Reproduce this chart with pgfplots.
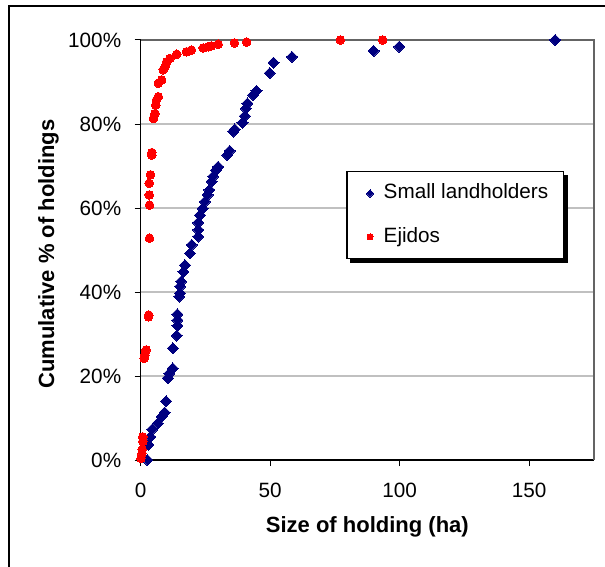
\documentclass[border=0pt]{standalone}
\usepackage{fontspec}
\setmainfont{Liberation Sans}
\usepackage{pgfplots}
\pgfplotsset{compat=1.18}
\definecolor{navy}{RGB}{0,0,128}
\definecolor{gridgray}{RGB}{192,192,192}
\definecolor{framegray}{RGB}{100,100,100}
\pgfplotsset{
  legimgA/.style={legend image code/.code={\pgfpathmoveto{\pgfpoint{-8pt}{0pt}}\pgfpathlineto{\pgfpoint{3.7pt}{0pt}}\pgfusepath{}\draw[##1, mark size=2.6pt] plot coordinates {(0pt,0pt)};}},
  legimgB/.style={legend image code/.code={\pgfpathmoveto{\pgfpoint{-8pt}{0pt}}\pgfpathlineto{\pgfpoint{3.7pt}{0pt}}\pgfusepath{}\draw[##1, mark size=3pt] plot coordinates {(0pt,0pt)};}},
}

\begin{document}
\begin{tikzpicture}
\useasboundingbox (0,0) rectangle (605pt,566pt);
\fill[white] (0,0) rectangle (605pt,566pt);
\draw[line width=2pt] (9pt,-5pt) -- (9pt,560.3pt) -- (620pt,560.3pt);
\begin{axis}[
  at={(140.7pt,106pt)}, anchor=south west,
  scale only axis, width=453.3pt, height=420pt,
  xmin=0, xmax=175, ymin=0, ymax=100,
  clip=false,
  xtick={0,50,100,150}, ytick={0,20,40,60,80,100},
  axis x line*=bottom, axis y line*=left,
  axis line style={line width=1.3pt, black, -},
  tick align=outside, major tick length=6pt,
  tick style={line width=1pt, black},
  ymajorgrids, grid style={line width=2pt, gridgray},
  /pgf/number format/assume math mode=true,
  tick label style={font=\fontsize{20.7}{24}\selectfont},
  yticklabel={\pgfmathprintnumber{\tick}\%},
  yticklabel style={xshift=-10pt},
  xticklabel style={yshift=-14pt},
  xlabel={\textbf{Size of holding (ha)}},
  ylabel={\textbf{Cumulative \% of holdings}},
  label style={font=\fontsize{22}{26}\selectfont},
  xlabel style={at={(axis description cs:0.5,0)}, anchor=base, yshift=-72pt},
  ylabel style={at={(axis description cs:-0.191,0.49)}, anchor=base},
  legend style={
    name=leg,
    at={(axis description cs:0.4537,0.688)}, anchor=north west,
    draw=black, line width=1.3pt, fill=white,
    font=\fontsize{20.7}{24}\selectfont,
    inner xsep=15pt, inner ysep=12pt,
    row sep=24pt, column sep=10pt,
    nodes={inner sep=0pt, text height=15pt, text depth=4.5pt},
  },
  legend cell align=left,
]
\draw[framegray, line width=2pt] (rel axis cs:0,1) -- (rel axis cs:1,1) -- (rel axis cs:1,0);

\addplot[only marks, mark=square*, mark size=3.9pt,
  mark options={rotate=45, draw=navy, fill=navy, line width=0pt}, legimgA]
table {
x y
2.6 0
3.0 3.6
3.7 5.5
4.5 7.3
6.6 8.7
8.1 10.3
9.2 11.3
9.8 14.0
10.5 19.5
11.1 20.6
12.4 21.8
12.4 26.6
13.9 29.6
14.2 32.0
14.2 33.3
14.2 34.7
14.9 38.9
15.2 39.7
15.2 41.3
15.6 42.5
16.5 44.8
17.1 46.4
19.0 49.2
19.7 51.2
22.2 53.2
22.2 54.8
22.2 56.5
22.9 58.3
23.9 59.9
24.8 61.5
25.8 63.1
26.5 64.3
27.4 66.3
28.0 67.5
29.0 69.0
29.9 69.8
33.4 72.6
34.4 73.6
35.7 78.2
36.3 78.7
39.3 80.3
40.2 81.9
40.6 83.7
41.2 84.9
43.4 86.9
44.7 87.9
49.8 92.1
51.3 94.6
58.4 96.0
89.9 97.4
99.8 98.4
160.0 100
};
\addlegendentry{Small landholders}

\addplot[only marks, mark=*, mark size=4.3pt,
  mark options={draw=red, fill=red, line width=0pt}, legimgB]
table {
x y
0.1 0.4
0.5 1.6
0.6 2.5
0.8 4.4
0.8 5.5
1.3 24.2
1.6 25.0
2.1 26.2
3.0 34.1
3.1 34.5
3.4 52.8
3.4 60.7
3.3 63.1
3.3 65.9
3.8 67.9
4.3 72.6
4.3 73.2
4.9 81.3
5.5 82.5
5.8 84.5
6.1 85.7
6.8 86.5
6.8 89.7
8.1 90.5
8.7 92.9
9.4 93.6
10.0 94.8
11.3 95.6
13.9 96.6
17.7 97.2
19.6 97.6
24.1 98.1
26.1 98.4
27.3 98.6
29.9 99.0
36.2 99.3
40.9 99.5
77.1 100
93.4 100
};
\addlegendentry{Ejidos}
\end{axis}
\fill[black] ([xshift=4pt]leg.south west) rectangle ([xshift=4pt,yshift=-4pt]leg.south east);
\fill[black] ([yshift=-4pt]leg.north east) rectangle ([xshift=4pt]leg.south east);
\end{tikzpicture}
\end{document}
